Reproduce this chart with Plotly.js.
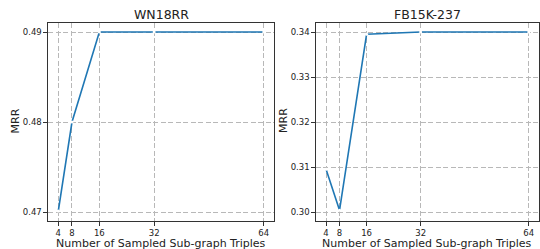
<!DOCTYPE html>
<html><head><meta charset="utf-8">
<script src="https://cdn.plot.ly/plotly-3.0.1.min.js"></script>
<style>html,body{margin:0;padding:0;background:#fff}#c{width:540px;height:249px}</style>
</head><body><div id="c"></div>
<script>
const triples = [4, 8, 16, 32, 64];
const wn18rrMRR = [0.4701, 0.48, 0.49, 0.49, 0.49];
const fb15kMRR = [0.3095, 0.3004, 0.3395, 0.34, 0.34];
const titles = ["WN18RR", "FB15K-237"];
const xTitle = "Number of Sampled Sub-graph Triples";
const yTitle = "MRR";
const wnTicks = [0.47, 0.48, 0.49];
const fbTicks = [0.30, 0.31, 0.32, 0.33, 0.34];

const FF = "DejaVu Sans";
const TC = "#222";
const lineStyle = {color: "#1f77b4", width: 1.6};
const mk = {color: "#ffffff", size: 3};

const traces = [
  {x: triples, y: wn18rrMRR, mode: "lines+markers", line: lineStyle, marker: mk, xaxis: "x", yaxis: "y"},
  {x: triples, y: fb15kMRR, mode: "lines+markers", line: lineStyle, marker: mk, xaxis: "x2", yaxis: "y2"}
];

const common = {
  showgrid: true, gridcolor: "#b8b8b8", griddash: "5px,2.5px", gridwidth: 1,
  showline: true, mirror: true, linecolor: "#333", linewidth: 1.1,
  ticks: "outside", ticklen: 3.5, tickwidth: 1, tickcolor: "#333", zeroline: false,
  tickfont: {family: FF, size: 8.5, color: TC}
};
function xa(dom, anchor) {
  return Object.assign({domain: dom, anchor: anchor, range: [1, 67], tickvals: triples, ticktext: triples.map(String)}, common);
}
function ya(range, ticks, anchor) {
  return Object.assign({domain: [0.1124, 0.9076], anchor: anchor, range: range, tickvals: ticks, tickformat: ".2f"}, common);
}

const d1 = [0.0889, 0.5074], d2 = [0.585, 0.998];
function ann(text, x, y, size, angle) {
  return {text: text, xref: "paper", yref: "paper", x: x, y: y, xanchor: "center", yanchor: "middle",
    showarrow: false, textangle: angle || 0, font: {family: FF, size: size, color: TC}};
}

const layout = {
  width: 540, height: 249, margin: {l: 0, r: 0, t: 0, b: 0},
  paper_bgcolor: "#fff", plot_bgcolor: "#fff", showlegend: false,
  xaxis: xa(d1, "y"),
  yaxis: ya([0.469, 0.491], wnTicks, "x"),
  xaxis2: xa(d2, "y2"),
  yaxis2: ya([0.298, 0.342], fbTicks, "x2"),
  annotations: [
    ann(titles[0], (d1[0] + d1[1]) / 2, 1 - 14 / 249, 12.5),
    ann(titles[1], (d2[0] + d2[1]) / 2, 1 - 14 / 249, 12.5),
    ann(xTitle, (d1[0] + d1[1]) / 2, 1 - 243 / 249, 11),
    ann(xTitle, (d2[0] + d2[1]) / 2, 1 - 243 / 249, 11),
    ann(yTitle, 14.5 / 540, 1 - 121 / 249, 11, -90),
    ann(yTitle, 283 / 540, 1 - 121 / 249, 11, -90)
  ]
};
Plotly.newPlot("c", traces, layout, {displayModeBar: false, staticPlot: true});
</script></body></html>
